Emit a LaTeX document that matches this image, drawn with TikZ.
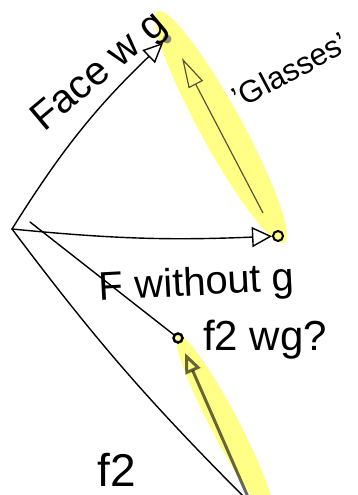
\documentclass[tikz,border=0pt]{standalone}
\usepackage{fontspec}
\setmainfont{Liberation Sans}
\usetikzlibrary{arrows.meta}
\definecolor{marker}{HTML}{FFFF33}
\definecolor{pencil}{HTML}{55553A}

\tikzset{
  vec/.style={line width=1.4pt,line cap=round},
  dot/.style={circle,draw,line width=2pt,inner sep=0pt,minimum size=9pt},
  hand/.style={font=\fontsize{40}{40}\selectfont},
  marked/.style={fill=marker,opacity=.6},
}

\begin{document}
\begin{tikzpicture}[x=1pt,y=-1pt]
  \useasboundingbox (0,0) rectangle (357,495);
  % highlighter strokes
  \fill[marked,rotate around={-61.3:(221,127)}] (221,127) ellipse [x radius=132,y radius=21];
  \fill[marked,rotate around={-62.3:(225,425)}] (225,425) ellipse [x radius=101,y radius=14];

  % points
  \coordinate (o) at (12,229);
  \coordinate (o2) at (30,222);
  \coordinate (bottom) at (247,500);
  \node[dot,fill=black!55,draw=none,opacity=.8] (withg) at (167,39) {};
  \node[dot,minimum size=10pt] (glassy) at (278,236) {};
  \node[dot,line width=2.5pt] (f2wg) at (178,338) {};

  % vectors out of the origin
  \draw[vec,-{Triangle[open,length=20pt,width=18pt]}] (o) to[bend left=7] (withg);
  \draw[vec,-{Triangle[open,length=20pt,width=20pt]}] (o) to[bend right=4] (glassy);
  \draw[vec] (o2) -- (f2wg);
  \draw[vec] (o) to[bend right=4] (bottom);

  % pencil arrows inside the marker
  \coordinate (gtail) at (263,213);
  \coordinate (ghead) at (182,58);
  \draw[pencil,line width=1.2pt,-{Triangle[open,length=30pt,width=16pt]}] (gtail) -- (ghead);
  \coordinate (ftail) at (248,497);
  \coordinate (fhead) at (185,353);
  \draw[black,opacity=.6,line width=3pt,-{Triangle[open,length=20pt,width=16pt]}] (ftail) -- (fhead);

  % labels
  \node[hand,rotate=40] (facewg) at (100,73) {Face w g};
  \node[hand,font=\fontsize{31}{31}\selectfont,rotate=28] (glasses) at (290,70) {'Glasses'};
  \node[hand,rotate=3] (without) at (197,285) {F without g};
  \node[hand,font=\fontsize{42}{42}\selectfont] (f2wgtext) at (265,340) {f2 wg?};
  \node[hand,font=\fontsize{46}{46}\selectfont] (f2) at (117,470) {f2};
\end{tikzpicture}
\end{document}
